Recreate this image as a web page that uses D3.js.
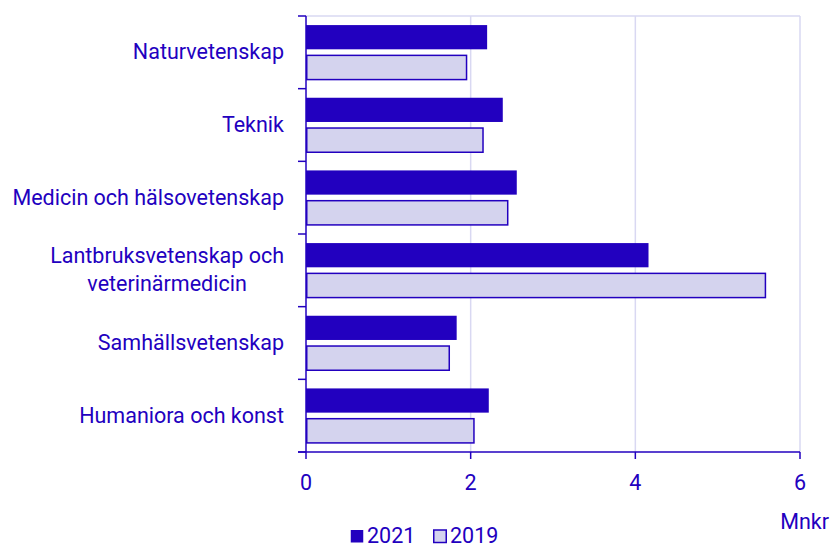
<!DOCTYPE html>
<html>
<head>
  <meta charset="UTF-8">
  <style>
    body { margin: 0; background: #fff; }
    text { font-family: Roboto, "Noto Sans", sans-serif; fill: #2200bf; }
  </style>
</head>
<body>
<svg></svg>
<script src="https://d3js.org/d3.v7.min.js"></script>
<script>

let width = 831, height = 547;

// data
let categories = [
  ["Naturvetenskap"],
  ["Teknik"],
  ["Medicin och hälsovetenskap"],
  ["Lantbruksvetenskap och", "veterinärmedicin"],
  ["Samhällsvetenskap"],
  ["Humaniora och konst"]
];
let years = ["2021", "2019"];
let values2021 = [2.2, 2.39, 2.56, 4.16, 1.83, 2.22];
let values2019 = [1.95, 2.15, 2.45, 5.58, 1.74, 2.04];
let xTicks = [0, 2, 4, 6];
let unitLabel = "Mnkr";

let dark = "#2200bf", light = "#d4d3ee", grid = "#d9d8f2";
let fs = 21.5;

let svg = d3.select("svg")
    .attr("width", width)
    .attr("height", height);

let m = {left: 306, right: 800, top: 16, bottom: 452};

let x = d3.scaleLinear().domain([0, 6]).range([m.left, m.right]);
let y = d3.scaleBand().domain(d3.range(categories.length)).range([m.top, m.bottom]);

let inner = d3.scaleBand().domain(years)
    .range([0, y.bandwidth()])
    .paddingInner(0.2)
    .paddingOuter(0.3);

// gridlines
svg.append("g")
  .selectAll("line")
  .data(xTicks.slice(1))
  .enter()
  .append("line")
  .attr("x1", d => x(d)).attr("x2", d => x(d))
  .attr("y1", m.top).attr("y2", m.bottom)
  .style("stroke", grid)
  .style("stroke-width", 1.5)

svg.append("line")
  .attr("x1", m.left).attr("x2", m.right)
  .attr("y1", m.top).attr("y2", m.top)
  .style("stroke", grid)
  .style("stroke-width", 1.5)

let rows = categories.map((c, i) => ({i: i, v: [values2021[i], values2019[i]]}));

let groups = svg.append("g")
  .selectAll("g")
  .data(rows)
  .enter()
  .append("g")
  .attr("transform", d => "translate(0," + y(d.i) + ")");

groups.append("rect")
  .attr("x", x(0))
  .attr("y", inner("2021"))
  .attr("height", inner.bandwidth())
  .attr("width", d => x(d.v[0]) - x(0))
  .style("fill", dark)

groups.append("rect")
  .attr("x", x(0) + 0.75)
  .attr("y", inner("2019"))
  .attr("height", inner.bandwidth())
  .attr("width", d => x(d.v[1]) - x(0) - 0.75)
  .style("fill", light)
  .style("stroke", dark)
  .style("stroke-width", 1.5)

// y axis
let yAxis = svg.append("g");
yAxis.append("line")
  .attr("x1", m.left).attr("x2", m.left)
  .attr("y1", m.top).attr("y2", m.bottom)
  .style("stroke", dark).style("stroke-width", 1.5)
yAxis.selectAll(".tk")
  .data(d3.range(categories.length + 1))
  .enter()
  .append("line")
  .attr("x1", m.left - 8).attr("x2", m.left)
  .attr("y1", d => m.top + d * y.step()).attr("y2", d => m.top + d * y.step())
  .style("stroke", dark).style("stroke-width", 1.5)

// category labels, multi-line ones centred under the widest line
categories.forEach((lines, i) => {
  let cy = y(i) + y.bandwidth() / 2;
  let lh = 28;
  let g = svg.append("g");
  let tx = lines.map((l, j) => g.append("text")
      .attr("font-size", fs)
      .attr("text-anchor", "middle")
      .attr("y", cy + (j - (lines.length - 1) / 2) * lh + 7)
      .text(l));
  let w = d3.max(tx, t => t.node().getComputedTextLength());
  tx.forEach(t => t.attr("x", 284 - w / 2));
});

// x axis
let xAxis = svg.append("g");
xAxis.append("line")
  .attr("x1", m.left - 8).attr("x2", m.right)
  .attr("y1", m.bottom).attr("y2", m.bottom)
  .style("stroke", dark).style("stroke-width", 1.5)
xAxis.selectAll(".tk")
  .data(xTicks)
  .enter()
  .append("line")
  .attr("x1", d => x(d)).attr("x2", d => x(d))
  .attr("y1", m.bottom).attr("y2", m.bottom + 7)
  .style("stroke", dark).style("stroke-width", 1.5)
xAxis.selectAll("text")
  .data(xTicks)
  .enter()
  .append("text")
  .attr("x", d => x(d))
  .attr("y", 490)
  .attr("font-size", fs)
  .attr("text-anchor", "middle")
  .text(d => d)

svg.append("text")
  .attr("x", 829)
  .attr("y", 529)
  .attr("font-size", fs)
  .attr("text-anchor", "end")
  .text(unitLabel)

// legend
let legX = [350, 433];
years.forEach((yr, i) => {
  svg.append("rect")
    .attr("x", legX[i] + 0.75).attr("y", 530)
    .attr("width", 12.5).attr("height", 12.5)
    .style("fill", i == 0 ? dark : light)
    .style("stroke", dark)
    .style("stroke-width", i == 0 ? 0 : 1.5)
  svg.append("text")
    .attr("x", legX[i] + 17)
    .attr("y", 543)
    .attr("font-size", fs)
    .text(yr)
});

</script>
</body>
</html>
